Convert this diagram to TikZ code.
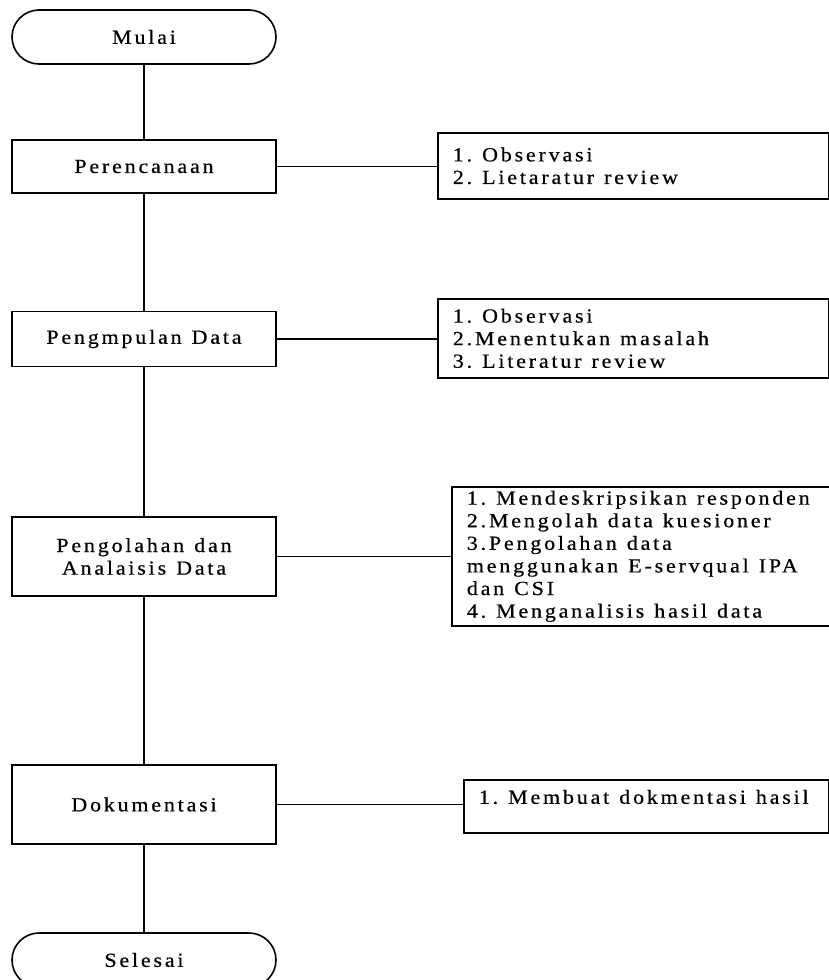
\documentclass[tikz,border=0pt]{standalone}
\usepackage{fontspec}
\setmainfont{Liberation Serif}[FakeStretch=1.1,LetterSpace=14,FakeBold=0.5]
\newcommand\dfont{\fontsize{20}{22.6}\selectfont}
\newcommand\ws{\hspace{10pt}}
\begin{document}
\begin{tikzpicture}[x=1pt,y=-1pt,
  every node/.style={font=\dfont},
  lbox/.style={draw, line width=1.7pt, rectangle, minimum width=264pt, inner sep=0pt, align=center},
  term/.style={draw, line width=1.6pt, rounded corners=27pt, minimum width=264pt, minimum height=54pt, inner sep=0pt},
  rbox/.style={draw, line width=1.7pt, align=left, inner xsep=15pt, inner ysep=0pt, anchor=north west},
  conn/.style={line width=1.5pt}]
\useasboundingbox (0,0) rectangle (829,980);
\clip (0,0) rectangle (829,980);

% main flow
\node[term] (mulai) at (144,37) {Mulai};
\node[lbox, minimum height=53pt] (p1) at (144,166.5) {Perencanaan};
\node[lbox, minimum height=55pt] (p2) at (144,339) {Pengmpulan\ws Data};
\node[lbox, minimum height=79pt] (p3) at (144,556.5) {Pengolahan\ws dan\\Analaisis\ws Data};
\node[lbox, minimum height=79pt] (p4) at (144,804.5) {Dokumentasi};
\node[term] (selesai) at (144,960) {Selesai};

% side boxes
\node[rbox, text width=361pt, minimum width=391pt, minimum height=66pt] (r1) at (437,132)
  {1.\ws Observasi\\2.\ws Lietaratur\ws review};
\node[rbox, text width=361pt, minimum width=391pt, minimum height=79pt] (r2) at (437,298)
  {1.\ws Observasi\\2.Menentukan\ws masalah\\3.\ws Literatur\ws review};
\node[rbox, text width=362pt, minimum width=392pt, minimum height=139pt] (r3) at (451,486)
  {1.\ws Mendeskripsikan\ws responden\\2.Mengolah\ws data\ws kuesioner\\3.Pengolahan\ws data\\menggunakan\ws E-servqual\ws IPA\\dan\ws CSI\\4.\ws Menganalisis\ws hasil\ws data};
\node[rbox, text width=335pt, minimum width=365pt, minimum height=53pt, text depth=19pt] (r4) at (463,779)
  {1.\ws Membuat\ws dokmentasi\ws hasil};

% connectors
\draw[conn] (mulai) -- (p1);
\draw[conn] (p1) -- (p2);
\draw[conn] (p2) -- (p3);
\draw[conn] (p3) -- (p4);
\draw[conn] (p4) -- (selesai);

\draw[conn] (p1.east) -- (p1.east -| r1.west);
\draw[conn] (p2.east) -- (p2.east -| r2.west);
\draw[conn] (p3.east) -- (p3.east -| r3.west);
\draw[conn] (p4.east) -- (p4.east -| r4.west);
\end{tikzpicture}
\end{document}
